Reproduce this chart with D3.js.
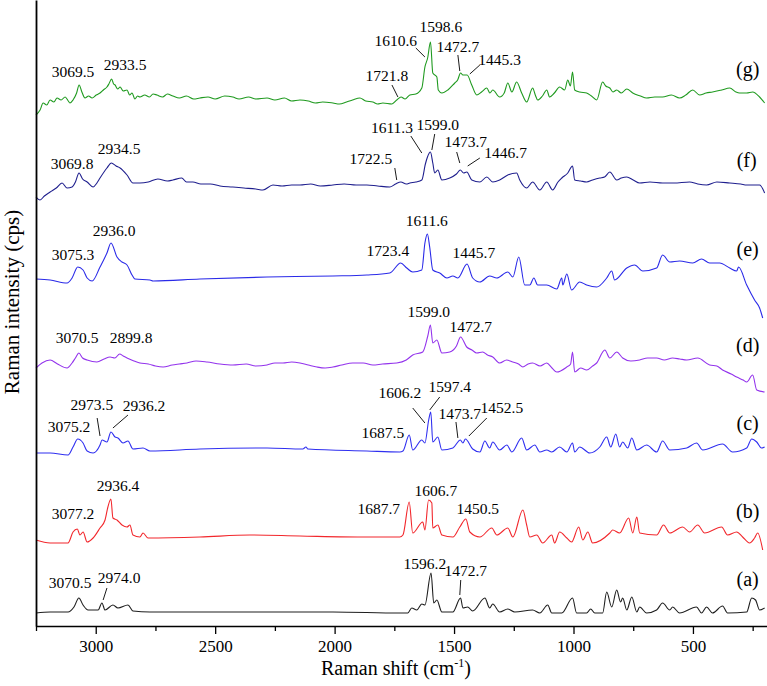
<!DOCTYPE html>
<html><head><meta charset="utf-8">
<script src="https://cdn.jsdelivr.net/npm/d3@7"></script>
<style>body{margin:0;background:#fff}svg{display:block}</style>
</head><body><svg id="c" width="767" height="686"></svg>
<script>
// ---- data (Raman shift cm-1, stacked intensity) ----
const specG = [[3250,511],[3233,516],[3220,523],[3205,521],[3191,526],[3175,524],[3162,528],[3145,526],[3128,529],[3115,525],[3108,523],[3095,526],[3080,533],[3069.5,541],[3058,534],[3045,528],[3030,530],[3015,528],[2998,531],[2982,533],[2968,536],[2953,539],[2945,542],[2933.5,547],[2925,542],[2919,541],[2908,537],[2898,539],[2885,535],[2869,536],[2858,531],[2848,533],[2836,527],[2825,530],[2815,529],[2795,531],[2775,529],[2760,532],[2744,531],[2720,529],[2700,532],[2677,530],[2650,528],[2620,530],[2590,527],[2564,528],[2530,529],[2500,527],[2460,530],[2426,529],[2400,527],[2360,529],[2330,527],[2283,528],[2250,526],[2210,528],[2180,525],[2145,526],[2110,525],[2080,523],[2050,524],[2007,523],[1980,522],[1950,524],[1925,526],[1894,528],[1870,525],[1840,524],[1820,522],[1798,523],[1760,522],[1740,526],[1721.8,529],[1705,527],[1685,531],[1660,532],[1635,538],[1622,559],[1610.6,568],[1598.6,584],[1589,553],[1572,549],[1566,536],[1551,533],[1526,536],[1497,543],[1485,546],[1472.7,553],[1463,551],[1445.3,551],[1426,541],[1405,531],[1385,534],[1363,538],[1350,533],[1338,536],[1309,529],[1290,533],[1275,543],[1258,534],[1238,544],[1217,533],[1196,524],[1171,538],[1160,531],[1150,526],[1130,530],[1112,536],[1100,529],[1080,533],[1058,539],[1037,536],[1024,546],[1013,540],[1004,554],[995,536],[974,534],[945,533],[925,530],[903,526],[878,544],[865,540],[848,538],[835,534],[819,536],[800,533],[777,537],[752,533],[720,530],[694,528],[660,529],[627,529],[590,531],[556,528],[530,531],[501,536],[472,531],[445,533],[418,534],[380,536],[346,538],[320,534],[305,533],[275,533],[250,534],[221,529],[200,523]];

const specF = [[3250,429],[3233,426],[3215,430],[3191,434],[3165,438],[3141,443],[3120,438],[3099,439],[3085,444],[3069.8,453],[3055,447],[3036,444],[3011,439],[2995,443],[2982,448],[2953,458],[2934.5,463],[2915,460],[2898,458],[2869,451],[2844,443],[2815,443],[2780,444],[2740,447],[2700,445],[2677,446],[2640,448],[2620,444],[2593,444],[2560,442],[2520,442],[2480,440],[2426,439],[2380,438],[2330,437],[2300,436],[2258,441],[2220,440],[2180,441],[2145,441],[2100,442],[2060,440],[2007,441],[1960,442],[1910,441],[1865,441],[1820,440],[1769,439],[1745,442],[1722.5,444],[1700,442],[1685,443],[1660,444],[1635,446],[1620,462],[1611.3,469],[1599.0,474],[1589,463],[1581,453],[1568,456],[1551,446],[1518,448],[1490,452],[1473.7,456],[1460,453],[1446.7,454],[1426,446],[1392,444],[1363,449],[1338,444],[1309,446],[1275,451],[1238,453],[1225,446],[1196,438],[1171,444],[1141,436],[1112,444],[1087,436],[1065,444],[1049,448],[1024,453],[1004,460],[995,446],[970,445],[945,444],[920,446],[890,448],[870,449],[848,454],[819,446],[800,448],[777,449],[750,446],[723,443],[680,444],[627,443],[580,443],[514,444],[480,442],[443,441],[400,444],[346,443],[300,442],[275,441],[221,441],[200,433]];

const specE = [[3250,347],[3191,346],[3120,343],[3099,348],[3075.3,359],[3053,356],[3036,348],[3015,345],[2982,359],[2953,373],[2936.0,383],[2911,369],[2890,364],[2869,361],[2848,351],[2836,347],[2773,346],[2760,345],[2564,347],[2283,349],[2007,350],[1865,351],[1769,353],[1723.4,363],[1698,358],[1673,354],[1635,356],[1622,383],[1611.6,392],[1602,379],[1589,356],[1560,353],[1530,348],[1505,350],[1484,348],[1445.7,362],[1422,348],[1392,344],[1351,350],[1321,348],[1275,354],[1254,349],[1229,369],[1204,341],[1183,341],[1166,348],[1150,341],[1112,341],[1070,337],[1049,348],[1045,341],[1028,352],[1008,336],[974,344],[945,341],[903,339],[861,348],[840,355],[828,346],[777,358],[744,361],[710,355],[652,358],[627,371],[597,364],[556,365],[501,363],[464,367],[430,363],[388,363],[346,358],[317,355],[309,359],[275,341],[242,326],[221,318],[208,308]];

const specD = [[3250,258],[3225,263],[3191,266],[3160,262],[3120,258],[3099,263],[3085,268],[3070.5,273],[3055,268],[3036,266],[2995,264],[2965,267],[2940,269],[2920,268],[2899.8,272],[2885,270],[2869,268],[2840,265],[2815,263],[2780,262],[2750,260],[2718,259],[2680,261],[2650,262],[2618,263],[2580,265],[2534,264],[2480,262],[2426,261],[2370,262],[2330,260],[2283,261],[2250,263],[2216,263],[2180,264],[2145,263],[2110,261],[2074,259],[2040,258],[2007,259],[1970,261],[1924,263],[1880,263],[1840,261],[1800,262],[1740,263],[1700,266],[1673,271],[1631,274],[1610,290],[1599.0,301],[1589,283],[1572,286],[1551,273],[1518,274],[1490,280],[1472.7,289],[1447,279],[1425,276],[1405,273],[1380,274],[1360,271],[1338,269],[1309,263],[1280,266],[1254,264],[1230,262],[1212,259],[1190,262],[1171,263],[1140,260],[1112,263],[1090,258],[1070,254],[1028,259],[1012,262],[1004,274],[995,254],[970,258],[945,256],[920,260],[903,263],[869,276],[848,268],[819,274],[794,268],[760,265],[723,266],[690,268],[652,268],[620,266],[585,268],[555,267],[526,266],[480,268],[430,261],[400,260],[376,256],[340,252],[317,249],[290,246],[275,244],[250,251],[233,236],[200,234]];

const specC = [[3250,173],[3191,173],[3116,171],[3095,179],[3075.2,187],[3053,183],[3036,175],[3011,173],[2982,181],[2973.5,186],[2953,184],[2936.2,194],[2919,189],[2907,188],[2886,183],[2865,185],[2844,177],[2802,178],[2773,175],[2564,177],[2283,178],[2133,177],[2120,179],[2112,177],[1865,175],[1727,174],[1714,175],[1687.5,191],[1673,176],[1635,186],[1622,183],[1606.2,206],[1597.4,214],[1589,184],[1568,189],[1551,176],[1505,178],[1473.7,186],[1463,183],[1452.5,187],[1422,177],[1392,174],[1371,185],[1351,178],[1338,184],[1309,176],[1279,181],[1258,174],[1217,188],[1196,176],[1162,181],[1141,174],[1112,176],[1091,174],[1058,179],[1028,174],[1004,183],[995,174],[974,179],[932,173],[890,179],[861,189],[844,179],[823,192],[807,179],[794,184],[773,178],[756,188],[735,176],[694,181],[652,174],[627,185],[597,176],[526,178],[485,183],[459,176],[376,182],[334,174],[275,178],[254,187],[233,184],[213,178],[200,179]];

const specB = [[3250,86],[3191,83],[3116,83],[3095,94],[3077.2,97],[3066,91],[3053,94],[3036,84],[3011,88],[2982,98],[2961,106],[2949,119],[2936.4,127],[2928,108],[2911,106],[2890,101],[2869,99],[2857,101],[2844,91],[2815,89],[2802,93],[2781,88],[2564,89],[2355,91],[2145,90],[1865,89],[1727,89],[1714,91],[1687.7,124],[1673,93],[1631,104],[1622,96],[1606.7,126],[1593,123],[1589,98],[1568,101],[1551,91],[1505,89],[1476,99],[1450.5,107],[1434,94],[1392,89],[1342,98],[1321,91],[1275,98],[1254,89],[1212,116],[1196,101],[1183,89],[1154,91],[1129,83],[1091,91],[1079,83],[1058,94],[1028,88],[1008,84],[978,99],[961,86],[940,94],[920,83],[848,93],[836,96],[807,93],[769,108],[752,93],[735,109],[723,93],[652,91],[623,101],[597,93],[543,99],[514,94],[480,101],[451,93],[380,99],[355,91],[317,94],[292,89],[263,83],[242,88],[229,93],[208,76]];

const specA = [[3250,13],[3191,14],[3116,14],[3091,19],[3070.5,28],[3053,21],[3032,16],[2990,16],[2974.0,23],[2961,16],[2928,21],[2907,18],[2865,21],[2844,15],[2773,14],[2426,14],[2007,14],[1727,13],[1694,13],[1677,18],[1656,16],[1635,22],[1622,21],[1596.2,53],[1585,23],[1572,26],[1551,14],[1505,14],[1472.7,28],[1463,18],[1443,19],[1422,15],[1371,28],[1351,18],[1338,22],[1309,14],[1275,17],[1246,14],[1171,16],[1141,13],[1108,21],[1091,13],[1049,13],[1004,28],[987,13],[945,13],[928,17],[911,13],[878,13],[861,34],[840,19],[819,36],[803,24],[794,28],[777,16],[756,29],[735,14],[723,19],[694,13],[652,16],[627,23],[597,16],[585,19],[556,13],[485,19],[464,13],[443,19],[418,13],[376,20],[355,13],[275,14],[254,28],[238,26],[221,16],[200,18]];

const seriesNames = ["(a)","(b)","(c)","(d)","(e)","(f)","(g)"];
const seriesData = [specA, specB, specC, specD, specE, specF, specG];
const seriesColors = ["#1e1e1e","#f2272c","#2f2ff0","#9333ec","#2a2ae8","#1f1f8e","#1f9a1f"];

const xMajorTicks = [3000,2500,2000,1500,1000,500];
const xMinorTicks = [3250,2750,2250,1750,1250,750,250];

// peak labels: [series index, text, label wavenumber, label intensity, leader(from w,i,to w,i) or null]
const peakLabels = [
  [6,"3069.5",3095,549,null],[6,"2933.5",2877,556,null],
  [6,"1721.8",1781,545,[1760,541,1735,529]],[6,"1610.6",1744,580,[1660,578,1622,569]],
  [6,"1598.6",1555,594,null],[6,"1472.7",1484,574,[1484,571,1476,555]],
  [6,"1445.3",1309,561,[1392,561,1434,552]],
  [5,"3069.8",3099,457,null],[5,"2934.5",2902,472,null],
  [5,"1722.5",1848,462,[1748,458,1740,446]],[5,"1611.3",1760,493,[1681,490,1635,473]],
  [5,"1599.0",1568,496,[1581,492,1593,476]],[5,"1473.7",1451,479,[1489,474,1476,463]],
  [5,"1446.7",1284,468,[1392,468,1443,460]],
  [4,"3075.3",3095,366,null],[4,"2936.0",2923,390,null],[4,"1723.4",1777,370,null],
  [4,"1611.6",1614,400,null],[4,"1445.7",1417,368,null],
  [3,"3070.5",3078,283,null],[3,"2899.8",2852,283,null],[3,"1599.0",1606,309,null],[3,"1472.7",1430,294,null],
  [2,"3075.2",3112,194,null],[2,"2973.5",3016,216,[2994,208,2982,190]],[2,"2936.2",2798,215,[2865,211,2928,198]],
  [2,"1687.5",1798,188,null],[2,"1606.2",1727,228,[1673,218,1622,203]],[2,"1597.4",1518,234,[1560,229,1602,216]],
  [2,"1473.7",1476,207,[1492,204,1484,188]],[2,"1452.5",1300,213,[1363,208,1438,190]],
  [1,"3077.2",3095,107,null],[1,"2936.4",2907,135,null],[1,"1687.7",1815,112,null],
  [1,"1606.7",1576,130,null],[1,"1450.5",1401,112,null],
  [0,"3070.5",3107,38,null],[0,"2974.0",2902,43,[2953,38,2969,26]],[0,"1596.2",1622,57,null],
  [0,"1472.7",1451,50,[1472,46,1476,31]]
];
const seriesTagPos = [[271,40],[271,108],[271,196],[271,274],[271,370],[275,459],[271,550]];

// ---- drawing ----
const FONT = "'Liberation Serif', 'Times New Roman'";
const svg = d3.select("#c");
const x = d3.scaleLinear().domain([3250,190]).range([36,767]);
const y = d3.scaleLinear().domain([0,626]).range([626,0]);

const line = d3.line().x(d=>x(d[0])).y(d=>y(d[1])).curve(d3.curveMonotoneX);
svg.append("g").selectAll("path").data(seriesData).join("path")
  .attr("d", d=>line(d)).attr("fill","none")
  .attr("stroke",(d,i)=>seriesColors[i]).attr("stroke-width",1.1).attr("stroke-linejoin","round");

// axes
const gx = svg.append("g").attr("transform","translate(0,626)")
  .call(d3.axisBottom(x).tickValues(xMajorTicks).tickSize(8).tickSizeOuter(0).tickPadding(6).tickFormat(d3.format("d")));
gx.attr("font-family", FONT).attr("font-size", 17);
gx.select(".domain").attr("stroke-width",1.6);
gx.selectAll(".tick line").attr("stroke-width",1.3);
gx.selectAll("text").style("font-family",FONT).attr("fill","#000");
const gm = svg.append("g").attr("transform","translate(0,626)")
  .call(d3.axisBottom(x).tickValues(xMinorTicks).tickSize(5).tickSizeOuter(0).tickFormat(""));
gm.select(".domain").remove();
gm.selectAll(".tick line").attr("stroke-width",1.3);
const gy = svg.append("g").attr("transform","translate(36,0)")
  .call(d3.axisLeft(y).tickValues([]).tickSizeOuter(0));
gy.select(".domain").attr("stroke-width",1.8);

// titles
const xt = svg.append("text").attr("x",396).attr("y",675).attr("text-anchor","middle")
  .style("font-family",FONT).attr("font-size",20).attr("fill","#000");
xt.append("tspan").text("Raman shift (cm");
xt.append("tspan").attr("font-size",12).attr("dy",-8).text("-1");
xt.append("tspan").attr("dy",8).text(")");
svg.append("text").attr("transform","translate(19,302) rotate(-90)").attr("text-anchor","middle")
  .style("font-family",FONT).attr("font-size",21).attr("fill","#000").text("Raman intensity (cps)");

// peak labels
const gl = svg.append("g");
peakLabels.forEach(p=>{
  gl.append("text").attr("x",x(p[2])).attr("y",y(p[3])).attr("text-anchor","middle")
    .style("font-family",FONT).attr("font-size",15.5).attr("fill","#000").text(p[1]);
  if(p[4]){
    gl.append("line").attr("x1",x(p[4][0])).attr("y1",y(p[4][1])).attr("x2",x(p[4][2])).attr("y2",y(p[4][3]))
      .attr("stroke","#000").attr("stroke-width",0.9);
  }
});
seriesNames.forEach((n,i)=>{
  svg.append("text").attr("x",x(seriesTagPos[i][0])).attr("y",y(seriesTagPos[i][1])).attr("text-anchor","middle")
    .style("font-family",FONT).attr("font-size",20).attr("fill","#000").text(n);
});
</script></body></html>
